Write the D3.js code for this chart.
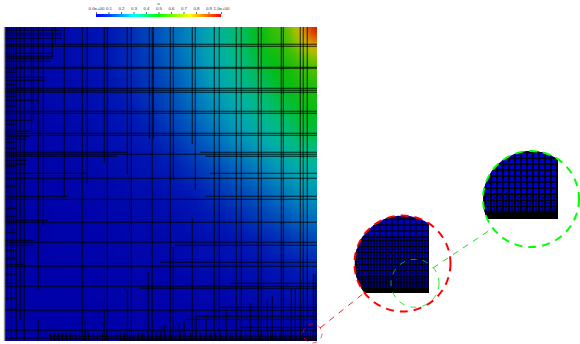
<!DOCTYPE html>
<html><head><meta charset="utf-8">
<script src="https://cdn.jsdelivr.net/npm/d3@7/dist/d3.min.js"></script>
<style>html,body{margin:0;padding:0;background:#fff}svg{display:block}</style>
</head><body><svg id="c" width="580" height="344"></svg>
<script>
// Field u on a coarse table (rows top to bottom, columns left to right)
const fieldRows = [
[.01,.02,.03,.05,.07,.10,.14,.19,.25,.33,.42,.50,.60,.70],
[.01,.02,.03,.05,.07,.10,.13,.18,.24,.31,.39,.47,.55,.66],
[.01,.02,.03,.04,.06,.09,.12,.16,.22,.29,.36,.43,.50,.57],
[.01,.02,.03,.04,.06,.08,.11,.15,.20,.26,.32,.39,.45,.52],
[.01,.01,.02,.03,.05,.07,.09,.13,.17,.22,.28,.34,.40,.47],
[.01,.01,.02,.03,.04,.05,.07,.10,.14,.18,.23,.28,.34,.40],
[0,.01,.01,.02,.03,.04,.06,.08,.11,.14,.18,.22,.27,.32],
[0,.01,.01,.02,.02,.03,.04,.06,.08,.11,.14,.17,.21,.26],
[0,0,.01,.01,.02,.02,.03,.04,.06,.08,.10,.13,.16,.20],
[0,0,.01,.01,.01,.02,.02,.03,.04,.05,.07,.09,.11,.14],
[0,0,0,.01,.01,.01,.02,.02,.03,.04,.05,.06,.08,.10],
[0,0,0,0,.01,.01,.01,.01,.02,.02,.03,.04,.05,.07],
[0,0,0,0,0,.01,.01,.01,.01,.01,.02,.02,.03,.04],
[0,0,0,0,0,0,0,0,.01,.01,.01,.01,.01,.02]];
// Finer readings of the hot top-right corner
const cornerRows = [
[.60,.62,.68,.78,.88,1.0],
[.58,.60,.66,.74,.82,.92],
[.55,.58,.62,.70,.76,.82],
[.52,.55,.60,.64,.70,.74],
[.50,.53,.56,.60,.65,.68],
[.49,.50,.53,.56,.60,.63]];
const barTicks = [0,.1,.2,.3,.4,.5,.6,.7,.8,.9,1];
const barLabels = ["0.0e+00","0.1","0.2","0.3","0.4","0.5","0.6","0.7","0.8","0.9","1.0e+00"];
const barTitle = "u";
const fieldStops = [0,.08,.2,.3,.4,.5,.68,.8,.9,1];
const fieldColors = ["#0000a8","#0018b4","#0070c0","#00aab4","#00bd80","#00bd10","#60c000","#d8c400","#e07000","#d82000"];
const barStops = [0,.1,.3,.5,.75,.9,1];
const barColors = ["#0000ff","#0040ff","#00ffff","#00ff00","#ffff00","#ff6000","#ff0000"];

// Mesh lines in the plot's own pixel-like mesh units: [position, from, to]
const vLines = [[24,27,341],[38,27,290],[43,27,226],[64,27,197],[82,27,341],[87,27,184],[104,27,163],[107,27,341],[127,27,175],[131,27,341],[149,27,139],[152,27,341],[153,27,139],
[170,27,341],[173,27,180],[192,27,144],[195,27,190],[214,27,341],[219,27,341],[236,27,341],[241,27,341],[258,27,341],[261,27,341],[281,27,341],[283,27,341],[300,27,341],[303,27,341],[307,27,341],
[31,27,130],[33,27,120],[52,27,58],[55,27,45],[20,27,320],[173,247,341],[192,218,341],[38,320,341],[85,320,341],[104,310,341],[127,290,341],[148,272,341],
[161,325,341],[164,325,341],[179,323,341],[184,321,341],[196,317,341],[206,316,341],[226,310,341],[250,303,341],[267,299,341],[272,296,341],[291,289,341],[295,289,341],[313,274,341],[315,274,341],
[7,27,300],[9,27,230],[11,27,341],[13,27,260],[16,27,341]];
const hLines = [[44,4,317],[46,4,317],[67,4,317],[68,4,317],[88,4,317],[90,4,317],[92,4,317],[111,4,317],[113,4,317],[133,4,317],[135,4,317],[154,4,317],[178,4,317],[199,4,317],[222,4,317],[242,4,317],[266,4,317],[286,4,317],[310,4,317],[330,4,317],[338,4,317],
[152,4,127],[152,200,317],[156,4,117],[156,205,317],[173,4,87],[173,210,317],[196,4,68],[196,205,317],[245,4,34],[245,175,317],[262,160,317],[283,230,317],[288,140,317],[307,220,317],[316,195,317],[319,185,317],[327,240,317],
[30,4,62],[33,4,62],[35,4,62],[38,4,62],[53,4,53],[56,4,53],[58,4,52],[61,4,50],[77,4,46],[80,4,45],[100,4,38],[120,4,33],[131,4,31],[136,4,30],[139,4,27],[160,4,27],[164,4,26],[220,4,48],[240,4,34],[264,4,24],
[72,4,15],[84,4,15],[96,4,15],[106,4,15],[124,4,15],[142,4,15],[148,4,15],[166,4,15],[186,4,15],[208,4,15],[216,4,15],[232,4,15],[250,4,15],[258,4,15],[274,4,15],[283,4,15],[298,4,15],[309,4,15],
[336,50,317],[339,50,317],[340,120,317]];
const bottomTicks = [50,54,58,62,66,70,75,79,84,88,93,97,102,106,111,115,120,124,129,133,138,142,147,151,156,160,165,170,175,180,185,190,195,200,205,210,215,220,225,230,235,240,245,250,255,260,265,270,275,280,285,290,295,300,305,310,315];

const svg = d3.select("#c");
const plotW = 313, plotH = 314, plotX = 4, plotY = 27;
const x = d3.scaleLinear().domain([plotX, plotX+plotW]).range([plotX, plotX+plotW]);
const y = d3.scaleLinear().domain([plotY, plotY+plotH]).range([plotY, plotY+plotH]);
const color = d3.scaleLinear().domain(fieldStops).range(fieldColors).clamp(true);

const defs = svg.append("defs");
defs.append("clipPath").attr("id","plot").append("rect").attr("x",plotX).attr("y",plotY).attr("width",plotW).attr("height",plotH);
const blur = (id,s)=>defs.append("filter").attr("id",id).attr("x","-10%").attr("y","-10%").attr("width","120%").attr("height","120%")
  .attr("color-interpolation-filters","sRGB").append("feGaussianBlur").attr("stdDeviation",s);
blur("soft",8); blur("softer",4);

// Heat field
const colBand = d3.scaleBand().domain(d3.range(14)).range([plotX,plotX+plotW]);
const rowBand = d3.scaleBand().domain(d3.range(14)).range([plotY,plotY+plotH]);
const pad = 30;
const clipped = svg.append("g").attr("clip-path","url(#plot)");
const field = clipped.append("g").attr("filter","url(#soft)");
fieldRows.forEach((row,r)=>{
  field.selectAll(null).data(row).join("rect")
    .attr("x",(d,c)=>colBand(c)-(c===0?pad:0))
    .attr("y",rowBand(r)-(r===0?pad:0))
    .attr("width",(d,c)=>colBand.bandwidth()+((c===0||c===13)?pad:0)+.5)
    .attr("height",rowBand.bandwidth()+((r===0||r===13)?pad:0)+.5)
    .attr("fill",d=>color(d));
});
const cornerCol = d3.scaleBand().domain(d3.range(6)).range([x(269),x(317)]);
const cornerRow = d3.scaleBand().domain(d3.range(6)).range([y(27),y(75)]);
const corner = clipped.append("g").attr("filter","url(#softer)");
cornerRows.forEach((row,r)=>{
  corner.selectAll(null).data(row).join("rect")
    .attr("x",(d,c)=>cornerCol(c))
    .attr("y",cornerRow(r)-(r===0?pad:0))
    .attr("width",(d,c)=>cornerCol.bandwidth()+(c===5?pad:0)+.5)
    .attr("height",cornerRow.bandwidth()+(r===0?pad:0)+.5)
    .attr("fill",d=>color(d));
});

// Mesh
const mesh = svg.append("g").attr("clip-path","url(#plot)").attr("stroke","#000").attr("stroke-opacity",.8).attr("stroke-width",1);
mesh.selectAll(".v").data(vLines).join("line").attr("class","v")
  .attr("x1",d=>x(d[0])+.25).attr("x2",d=>x(d[0])+.25).attr("y1",d=>y(d[1])).attr("y2",d=>y(d[2]));
mesh.selectAll(".h").data(hLines).join("line").attr("class","h")
  .attr("y1",d=>y(d[0])+.25).attr("y2",d=>y(d[0])+.25).attr("x1",d=>x(d[1])).attr("x2",d=>x(d[2]));
mesh.selectAll(".b").data(bottomTicks).join("line").attr("class","b")
  .attr("x1",d=>x(d)+.5).attr("x2",d=>x(d)+.5).attr("y1",y(333)).attr("y2",y(341));
svg.append("line").attr("x1",x(4)+.5).attr("x2",x(4)+.5).attr("y1",y(27)).attr("y2",y(341)).attr("stroke","#999").attr("stroke-width",1.4);

// Colour bar
const barX = d3.scaleLinear().domain([0,1]).range([96,221]);
const grad = defs.append("linearGradient").attr("id","bar");
barStops.forEach((s,i)=>grad.append("stop").attr("offset",s).attr("stop-color",barColors[i]));
svg.append("rect").attr("x",barX(0)).attr("y",14).attr("width",barX(1)-barX(0)).attr("height",3).attr("fill","url(#bar)");
const ax = svg.append("g").attr("transform","translate(0,14)")
  .call(d3.axisTop(barX).tickValues(barTicks).tickFormat((d,i)=>barLabels[i]).tickSize(2).tickPadding(2));
ax.select(".domain").remove();
ax.selectAll("line").attr("stroke","#222").attr("stroke-width",.7);
ax.selectAll("text").attr("font-family","Liberation Sans").attr("font-size",4.4).attr("fill","#333");
svg.append("text").attr("x",barX(.5)).attr("y",5).attr("text-anchor","middle").attr("font-family","Liberation Sans").attr("font-size",4.4).attr("fill","#333").text(barTitle);

// Insets: a circle clipped to the domain's corner, showing the refined mesh
const insets = [
 {id:"r",cx:402.5,cy:263.5,r:48,right:429,bottom:293,coarseEnd:237,fineEnd:276,blackStart:288,sw:1.3,fw:1,col:"#f00",fill:"#0000b4"},
 {id:"g",cx:531,cy:199,r:48,right:558,bottom:219,coarseEnd:194,fineEnd:209,blackStart:211,sw:2,fw:1,col:"#0f0",fill:"#0000d0"}
];
insets.forEach(o=>{
  defs.append("clipPath").attr("id","ci"+o.id).append("circle").attr("cx",o.cx).attr("cy",o.cy).attr("r",o.r);
  const g = svg.append("g").attr("clip-path","url(#ci"+o.id+")");
  const left=o.cx-o.r, top=o.cy-o.r;
  g.append("rect").attr("x",left).attr("y",top).attr("width",o.right-left).attr("height",o.bottom-top).attr("fill",o.fill);
  const l = g.append("g").attr("stroke","#000").attr("stroke-opacity",.85);
  const xsC = d3.range(o.right-1,left,-6), xsF = d3.range(o.right-1,left,-3);
  const ysC = d3.range(o.coarseEnd,top,-6), ysF = d3.range(o.coarseEnd,o.fineEnd,3), ysD = d3.range(o.fineEnd,o.blackStart,1.5);
  l.selectAll(null).data(xsC).join("line").attr("x1",d=>d).attr("x2",d=>d).attr("y1",top).attr("y2",o.bottom).attr("stroke-width",o.sw);
  l.selectAll(null).data(xsF).join("line").attr("x1",d=>d).attr("x2",d=>d).attr("y1",o.coarseEnd).attr("y2",o.bottom).attr("stroke-width",o.fw);
  l.selectAll(null).data(ysC).join("line").attr("y1",d=>d).attr("y2",d=>d).attr("x1",left).attr("x2",o.right).attr("stroke-width",o.sw);
  l.selectAll(null).data(ysF).join("line").attr("y1",d=>d+.5).attr("y2",d=>d+.5).attr("x1",left).attr("x2",o.right).attr("stroke-width",o.fw);
  l.selectAll(null).data(ysD).join("line").attr("y1",d=>d+.5).attr("y2",d=>d+.5).attr("x1",left).attr("x2",o.right).attr("stroke-width",.8);
  g.append("rect").attr("x",left).attr("y",o.blackStart).attr("width",o.right-left).attr("height",o.bottom-o.blackStart).attr("fill","#000");
  svg.append("circle").attr("cx",o.cx).attr("cy",o.cy).attr("r",o.r).attr("fill","none").attr("stroke",o.col).attr("stroke-width",2).attr("stroke-dasharray","8 6");
});

// Source circles and connectors
svg.append("circle").attr("cx",312.5).attr("cy",333.5).attr("r",9.5).attr("fill","none").attr("stroke","#f00").attr("stroke-opacity",.7).attr("stroke-width",.9).attr("stroke-dasharray","5 5");
svg.append("circle").attr("cx",415).attr("cy",283.3).attr("r",24).attr("fill","none").attr("stroke","#0d0").attr("stroke-width",.8).attr("stroke-dasharray","6 6");
svg.append("line").attr("x1",320).attr("y1",328).attr("x2",364).attr("y2",293).attr("stroke","#f00").attr("stroke-width",.9).attr("stroke-dasharray","6 6");
svg.append("line").attr("x1",433).attr("y1",268).attr("x2",493).attr("y2",228).attr("stroke","#0d0").attr("stroke-width",.9).attr("stroke-dasharray","6 6");
</script></body></html>
